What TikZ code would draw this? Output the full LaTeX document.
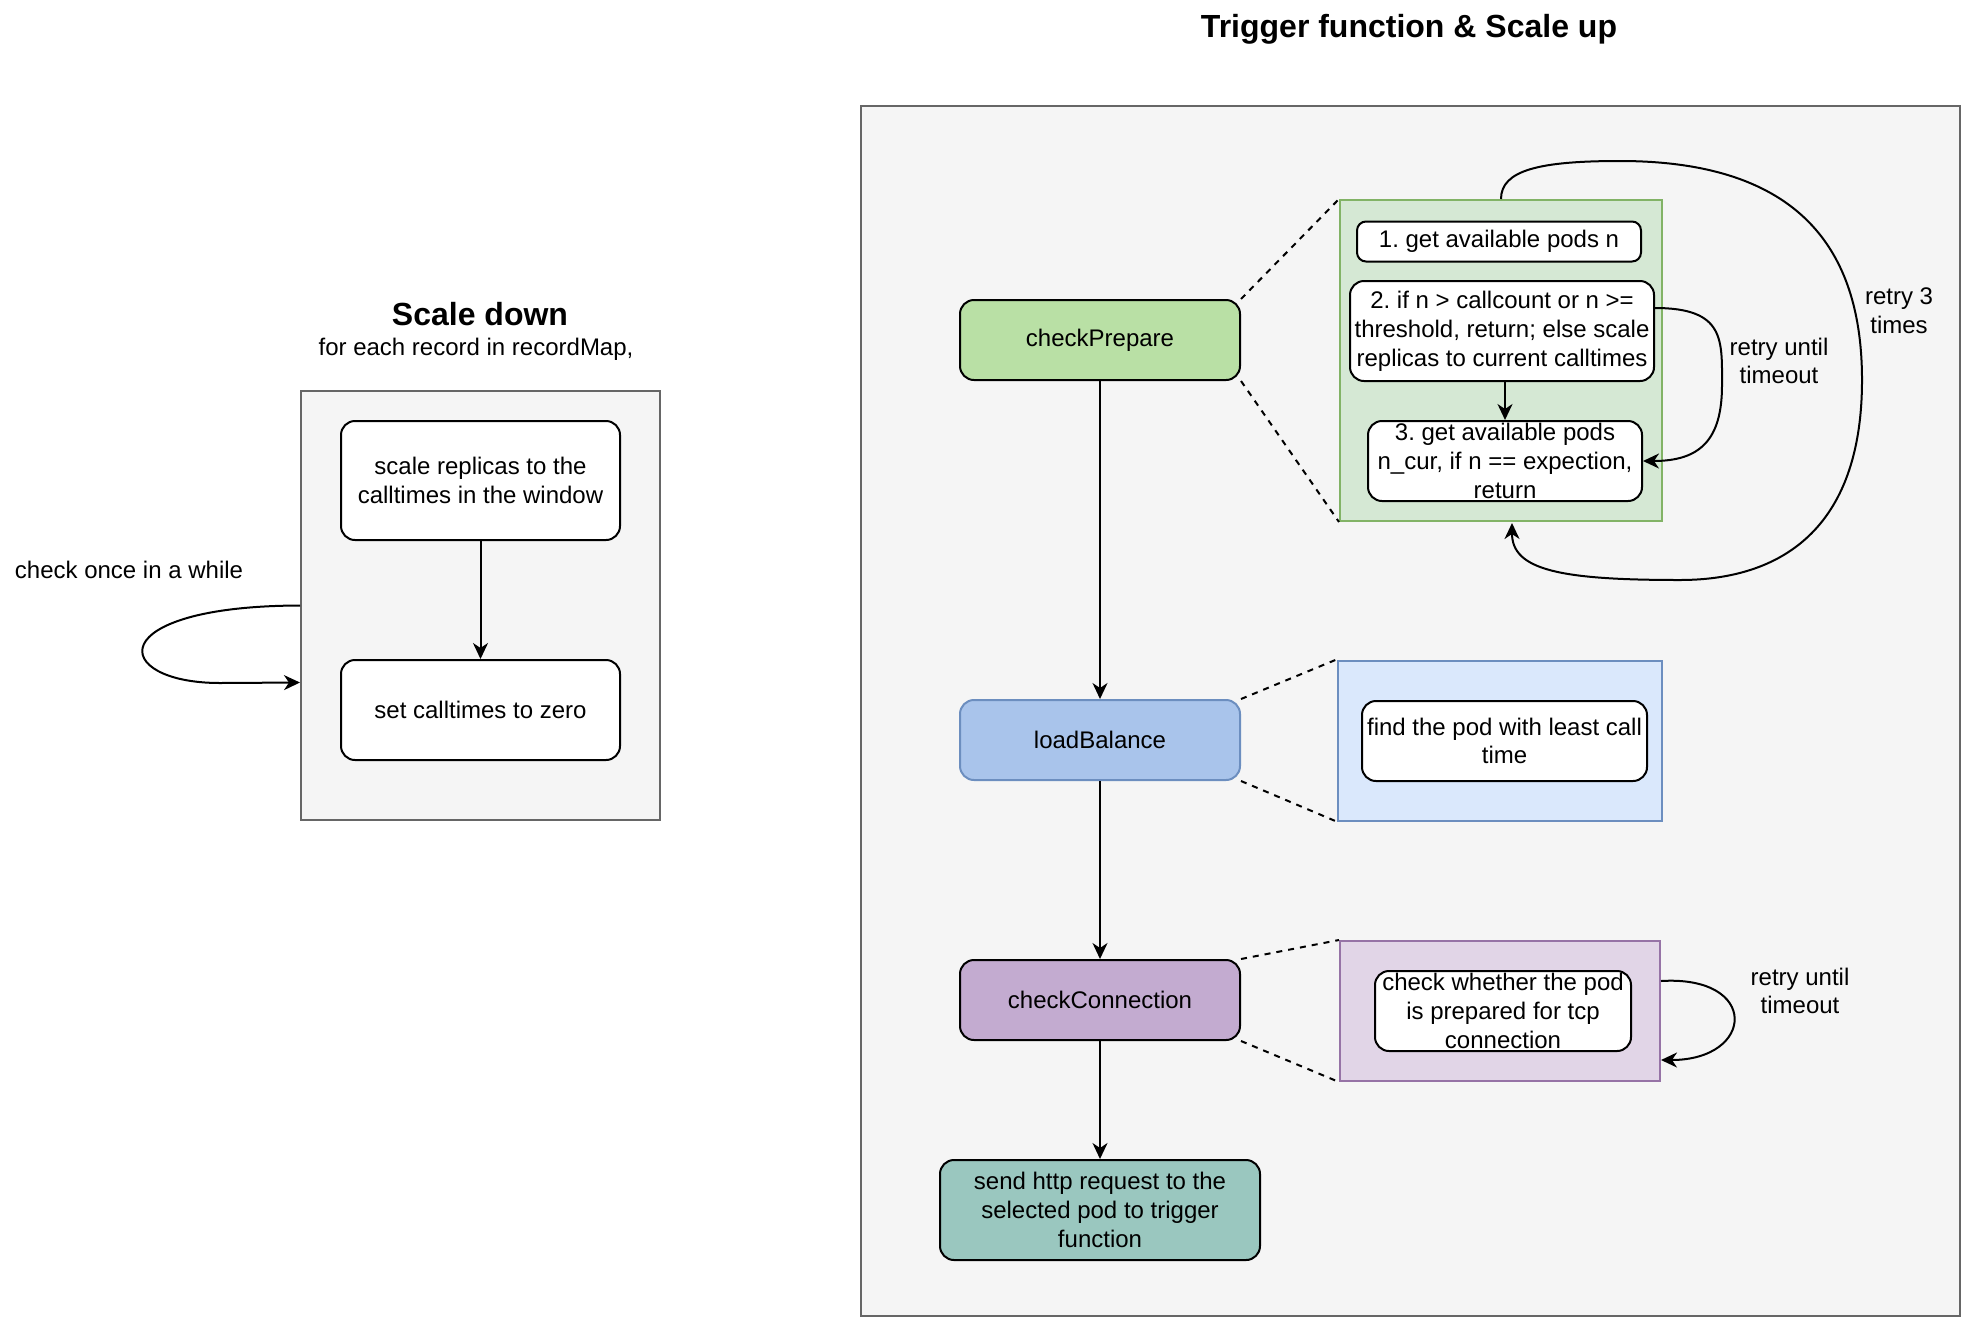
\documentclass[tikz,border=0pt]{standalone}
\usepackage{fontspec}
\setmainfont{Liberation Sans}
\usetikzlibrary{arrows.meta}
\frenchspacing
\definecolor{panelfill}{HTML}{F5F5F5}
\definecolor{panelline}{HTML}{666666}
\definecolor{prepfill}{HTML}{B9E0A5}
\definecolor{prepzoom}{HTML}{D5E8D4}
\definecolor{prepline}{HTML}{82B366}
\definecolor{balfill}{HTML}{A9C4EB}
\definecolor{balzoom}{HTML}{DAE8FC}
\definecolor{balline}{HTML}{6C8EBF}
\definecolor{connfill}{HTML}{C3ABD0}
\definecolor{connzoom}{HTML}{E1D5E7}
\definecolor{connline}{HTML}{9673A6}
\definecolor{sendfill}{HTML}{9AC7BF}
\begin{document}
\begin{tikzpicture}[x=1pt, y=-1pt,
    every node/.style={font=\fontsize{24}{28.8}\selectfont, inner sep=0pt, align=center},
    wh/.style 2 args={minimum width=#1pt, minimum height=#2pt},
    panel/.style={draw=panelline, fill=panelfill, line width=2pt},
    stepbox/.style={draw, fill=white, line width=2pt, rounded corners=14pt},
    smallbox/.style={draw, fill=white, line width=2pt, rounded corners=9pt},
    title/.style={font=\fontsize{32}{38}\selectfont\bfseries},
    link/.style={line width=2pt, -{Stealth[length=16pt, width=15pt, inset=5pt]}},
    zoomline/.style={line width=2pt, dash pattern=on 6pt off 6pt}]
  \useasboundingbox (0,0) rectangle (1964,1318);

  % scale down
  \node[title] (downtitle) at (480,314) {Scale down};
  \node (downsub) at (476,349) {for each record in recordMap,};
  \node[panel, wh={359}{429}] (down) at (480.5,605.5) {};
  \node[stepbox, wh={279}{119}] (scalerep) at (480.5,480.5) {scale replicas to the\\calltimes in the window};
  \node[stepbox, wh={279}{100}] (setzero) at (480.5,710) {set calltimes to zero};
  \draw[link] (scalerep) -- (setzero);
  \node (oncelabel) at (129,570) {check once in a while};
  \draw[link] (down.west) .. controls (100,606) and (110,683) .. (220,683) -- ([yshift=-77pt]down.west);

  % trigger function & scale up
  \node[title] (uptitle) at (1409,29) {Trigger function \& Scale up};
  \node[panel, wh={1099}{1210}] (up) at (1410.5,711) {};
  \node[stepbox, fill=prepfill, wh={280}{80}] (prepare) at (1100,340) {checkPrepare};
  \node[stepbox, fill=balfill, draw=balline, wh={280}{80}] (balance) at (1100,740) {loadBalance};
  \node[stepbox, fill=connfill, wh={280}{80}] (connect) at (1100,1000) {checkConnection};
  \node[stepbox, fill=sendfill, wh={320}{100}] (send) at (1100,1210) {send http request to the\\selected pod to trigger\\function};
  \draw[link] (prepare) -- (balance);
  \draw[link] (balance) -- (connect);
  \draw[link] (connect) -- (send);

  % checkPrepare details
  \node[draw=prepline, fill=prepzoom, line width=2pt, wh={322}{321}] (prepzoom) at (1501,360.5) {};
  \node[smallbox, wh={284}{40}] (stepone) at (1499,241.5) {1. get available pods n};
  \node[stepbox, wh={304}{100}] (steptwo) at (1502,331) {2. if n > callcount or n >=\\threshold, return; else scale\\replicas to current calltimes};
  \node[stepbox, wh={274}{80}] (stepthree) at (1505,461) {3. get available pods\\n\_cur, if n == expection,\\return};
  \draw[link] (stepthree.north |- steptwo.south) -- (stepthree.north);
  \draw[link] (steptwo.east |- 0,308) .. controls (1725,308) and (1722,340) .. (1722,385)
    .. controls (1722,440) and (1700,461) .. (stepthree.east);
  \node (untilone) at (1779,361) {retry until\\timeout};
  \draw[link] (prepzoom.north) .. controls (1501,170) and (1540,161) .. (1620,161)
    .. controls (1800,161) and (1862,250) .. (1862,380)
    .. controls (1862,530) and (1780,580) .. (1680,580)
    .. controls (1560,580) and (1512,570) .. (1512,523);
  \node (threetimes) at (1899,311) {retry 3\\times};
  \draw[zoomline] (prepare.north east) -- (prepzoom.north west);
  \draw[zoomline] (prepare.south east) -- (prepzoom.south west);

  % loadBalance details
  \node[draw=balline, fill=balzoom, line width=2pt, wh={324}{160}] (balzoom) at (1499.5,740.5) {};
  \node[stepbox, wh={285}{80}] (findpod) at (1504.5,741) {find the pod with least call\\time};
  \draw[zoomline] (balance.north east) -- (balzoom.north west);
  \draw[zoomline] (balance.south east) -- (balzoom.south west);

  % checkConnection details
  \node[draw=connline, fill=connzoom, line width=2pt, wh={320}{140}] (connzoom) at (1500,1011) {};
  \node[stepbox, wh={256}{80}] (tcpcheck) at (1503,1011) {check whether the pod\\is prepared for tcp\\connection};
  \draw[link] (connzoom.east |- 0,981) .. controls (1760,975) and (1755,1060) .. (connzoom.east |- 0,1060);
  \node (untiltwo) at (1800,991) {retry until\\timeout};
  \draw[zoomline] (connect.north east) -- (connzoom.north west);
  \draw[zoomline] (connect.south east) -- (connzoom.south west);
\end{tikzpicture}
\end{document}
